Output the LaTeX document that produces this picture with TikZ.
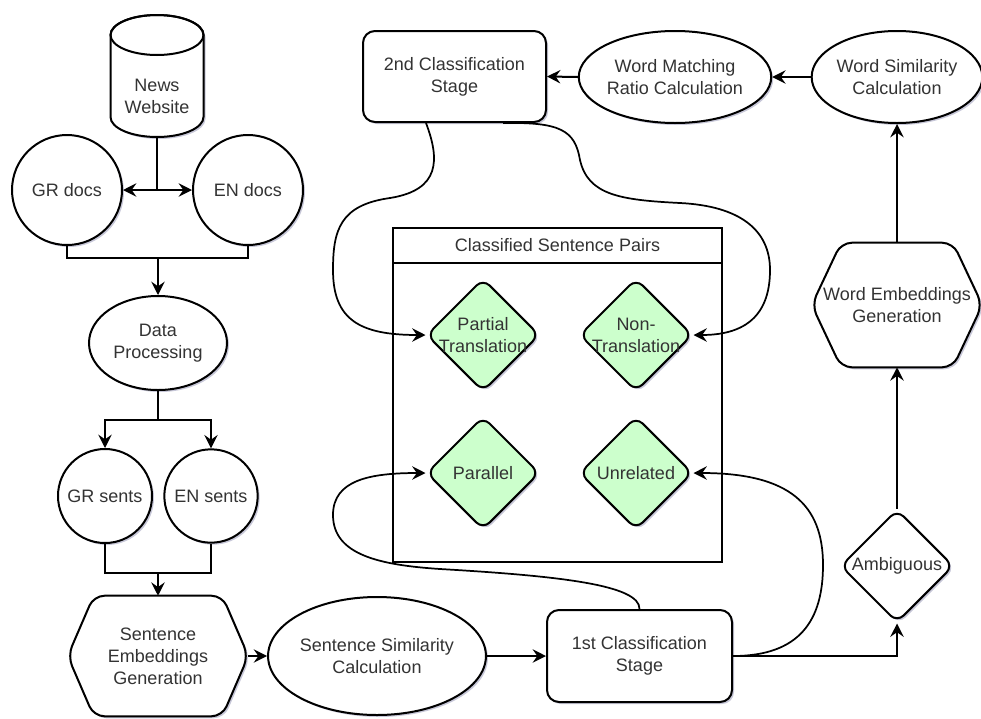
\documentclass[tikz,border=0pt]{standalone}
\usepackage{fontspec}
\setmainfont{Liberation Sans}
\usetikzlibrary{shapes.geometric,arrows.meta,calc,shadows}
\definecolor{lgreen}{HTML}{CCFFCC}
\begin{document}
\begin{tikzpicture}[x=0.75pt,y=-0.75pt,
  font=\fontsize{13.5}{16.5}\selectfont,
  shd/.style={drop shadow={shadow xshift=1.5pt,shadow yshift=-1.5pt,opacity=0.22,fill=black!70!blue}},
  base/.style={draw=black,line width=1.5pt,fill=white,text=black!80,align=center,inner sep=0pt,shd},
  circ/.style={base,circle,minimum size=#1},
  ell/.style={base,ellipse},
  rrect/.style={base,rectangle,rounded corners=9pt},
  dia/.style={base,diamond,aspect=1,minimum width=84.75pt,minimum height=84.75pt,rounded corners=7pt},
  hexs/.style={draw=black,line width=1.5pt,fill=white,rounded corners=8pt,shd},
  txt/.style={text=black!80,align=center,inner sep=0pt},
  arr/.style={line width=1.5pt,-{Stealth[length=10pt,width=10pt,inset=3.5pt]}},
  ln/.style={line width=1.5pt},
  crv/.style={line width=1.3pt,-{Stealth[length=10pt,width=10pt,inset=3.5pt]}}
]
\useasboundingbox (0,0) rectangle (981,718);

% News website cylinder
\node[minimum width=69.75pt,minimum height=91.5pt,inner sep=0pt] (news) at (157,76) {};
\draw[draw=black,line width=1.5pt,fill=white,shd] (110.5,35) -- (110.5,117)
  arc[start angle=180,end angle=360,x radius=34.875pt,y radius=15pt] -- (203.5,35)
  arc[start angle=0,end angle=180,x radius=34.875pt,y radius=15pt] -- cycle;
\draw[line width=1.5pt] (157,35) ellipse[x radius=34.875pt,y radius=15pt];
\node[txt] (newst) at (157,96) {News\\Website};

% Left column
\node[circ=82.5pt] (grd) at (67,190) {GR docs};
\node[circ=82.5pt] (end) at (248,190) {EN docs};
\node[ell,minimum width=103.5pt,minimum height=70.5pt] (dp) at (158,343) {Data\\Processing};
\node[circ=70.5pt] (grs) at (105,496) {GR sents};
\node[circ=70pt] (ens) at (211,496) {EN sents};

% Sentence Embeddings Generation hexagon
\node[minimum width=135pt,minimum height=90pt,inner sep=0pt] (seg) at (158,656) {};
\draw[hexs] (seg.north) -- ([xshift=-19.5pt]seg.north east) -- (seg.east) -- ([xshift=-19.5pt]seg.south east)
  -- ([xshift=19.5pt]seg.south west) -- (seg.west) -- ([xshift=19.5pt]seg.north west) -- cycle;
\node[txt] (segt) at (seg.center) {Sentence\\Embeddings\\Generation};

\node[ell,minimum width=135pt,minimum height=88.5pt] (ssc) at (377,656) {Sentence Similarity\\Calculation};
\node[rrect,minimum width=138.75pt,minimum height=69pt] (fcs) at (639.5,656) {1st Classification\\Stage};
\node[dia] (amb) at (897,566) {Ambiguous};

% Word Embeddings Generation hexagon
\node[minimum width=127.5pt,minimum height=93pt,inner sep=0pt] (weg) at (897,305) {};
\draw[hexs] (weg.north) -- ([xshift=-22pt]weg.north east) -- (weg.east) -- ([xshift=-22pt]weg.south east)
  -- ([xshift=22pt]weg.south west) -- (weg.west) -- ([xshift=22pt]weg.north west) -- cycle;
\node[txt] (wegt) at (weg.center) {Word Embeddings\\Generation};

% Top row
\node[ell,minimum width=123pt,minimum height=69pt] (wsc) at (897,77) {Word Similarity\\Calculation};
\node[ell,minimum width=123pt,minimum height=69pt] (wmr) at (675,77) {Word Matching\\Ratio Calculation};
\node[rrect,minimum width=137.25pt,minimum height=68.25pt] (scs) at (454.5,76.5) {2nd Classification\\Stage};

% Container
\node[draw=black,line width=1.5pt,minimum width=246.75pt,minimum height=250.5pt,inner sep=0pt] (csp) at (557.5,395) {};
\coordinate (hl) at (0,263);
\draw[ln] (csp.west |- hl) -- (csp.east |- hl);
\node[txt] (cspt) at (557.5,245.5) {Classified Sentence Pairs};

\node[dia,fill=lgreen,label={[txt]center:Partial\\Translation}] (ptr) at (483,335) {};
\node[dia,fill=lgreen,label={[txt]center:Non-\\Translation}] (ntr) at (636,335) {};
\node[dia,fill=lgreen,label={[txt]center:Parallel}] (par) at (483,473) {};
\node[dia,fill=lgreen,label={[txt]center:Unrelated}] (unr) at (636,473) {};

% Connectors left column
\coordinate (j1) at (157,190);
\draw[ln] (news.south) -- (j1);
\draw[arr] (j1) -- (grd.east);
\draw[arr] (j1) -- (end.west);
\coordinate (j2) at (158,258);
\draw[ln] (grd.south) |- (j2) -| (end.south);
\draw[arr] (j2) -- (dp.north);
\coordinate (j3) at (158,420);
\draw[ln] (dp.south) -- (j3);
\draw[arr] (j3) -| (grs.north);
\draw[arr] (j3) -| (ens.north);
\coordinate (j4) at (158,573);
\draw[ln] (grs.south) |- (j4) -| (ens.south);
\draw[arr] (j4) -- (seg.north);

% Bottom row
\draw[arr] (seg.east) -- (ssc.west);
\draw[arr] (ssc.east) -- (fcs.west);
\draw[arr] (fcs.east) -| (amb.south);
\draw[arr] (amb.north) -- (weg.south);
\draw[arr] (weg.north) -- (wsc.south);
\draw[arr] (wsc.west) -- (wmr.east);
\draw[arr] (wmr.west) -- (scs.east);

% Curved connectors
\draw[crv] ([xshift=48pt]scs.south west) .. controls (440,160) and (440,190) .. (390,198)
  .. controls (340,205) and (333,230) .. (333,270)
  .. controls (333,320) and (360,335) .. (ptr.west);
\draw[crv] ([xshift=105.75pt]scs.south west) .. controls (560,122) and (575,130) .. (580,160)
  .. controls (588,195) and (620,200) .. (680,203)
  .. controls (740,206) and (770,230) .. (770,270)
  .. controls (770,320) and (740,335) .. (ntr.east);
\draw[crv] (fcs.north) .. controls (640,585) and (560,576) .. (440,569)
  .. controls (380,565) and (333,555) .. (333,515)
  .. controls (333,480) and (370,473) .. (par.west);
\draw[crv] (fcs.east) .. controls (800,656) and (823,620) .. (823,565)
  .. controls (823,505) and (790,473) .. (unr.east);
\end{tikzpicture}
\end{document}
